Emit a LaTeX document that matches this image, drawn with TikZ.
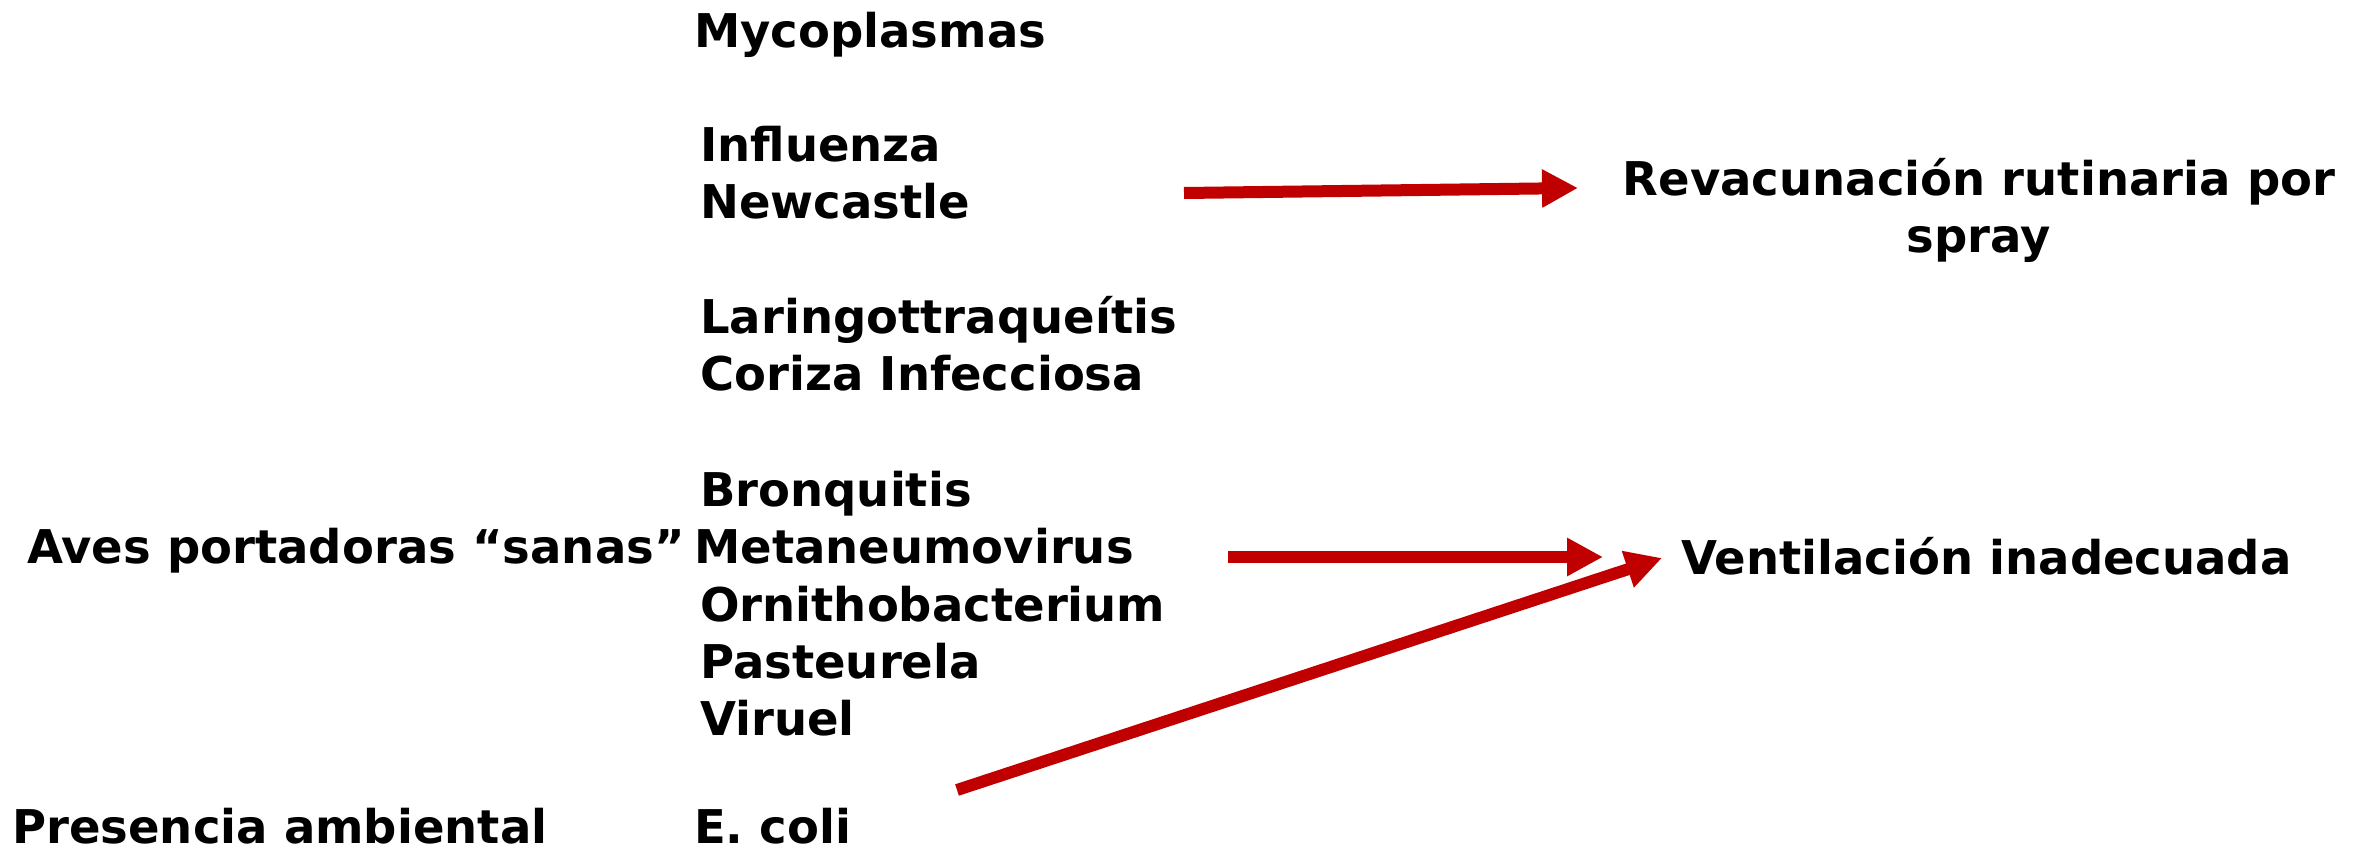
\documentclass[tikz,border=0pt]{standalone}
\usepackage{fontspec}
\setmainfont{DejaVu Sans}
\usepackage{tikz}
\usetikzlibrary{arrows.meta,positioning}

\definecolor{arrowred}{RGB}{192,0,0}

\tikzset{
    lbl/.style={anchor=base west, inner sep=0pt, font=\bfseries\fontsize{46.5}{57}\selectfont},
    redarrow/.style={draw=arrowred, line width=12pt, -{Triangle[length=36pt,width=36pt]}}
}

\begin{document}
\begin{tikzpicture}[x=1pt,y=-1pt]
    \useasboundingbox (0,0) rectangle (2353,854);

    % middle column
    \node[lbl] (myco) at (694,47) {Mycoplasmas};
    \node[lbl] (flu) at (700,161) {Influenza};
    \node[lbl] (ncd) at (700,218) {Newcastle};
    \node[lbl] (lt) at (700,333) {Laringottraqueítis};
    \node[lbl] (coriza) at (700,390) {Coriza Infecciosa};
    \node[lbl] (bronq) at (700,506) {Bronquitis};
    \node[lbl] (meta) at (694,563) {Metaneumovirus};
    \node[lbl] (ornit) at (700,621) {Ornithobacterium};
    \node[lbl] (paste) at (700,678) {Pasteurela};
    \node[lbl] (viruel) at (700,735) {Viruel};
    \node[lbl, text depth=0pt] (ecoli) at (694,843) {E. coli};

    % left column
    \node[lbl] (aves) at (27,563) {Aves portadoras “sanas”};
    \node[lbl, text depth=0pt] (amb) at (12,843) {Presencia ambiental};

    % right column
    \node[lbl, anchor=base, align=center] (revac) at (1979,252) {Revacunación rutinaria por\\spray};
    \node[lbl] (vent) at (1681,574) {Ventilación inadecuada};

    \coordinate (a1s) at (1184,193);
    \coordinate (a1e) at (1578,188);
    \coordinate (a2s) at (1228,557);
    \coordinate (a2e) at (1603,557);
    \coordinate (a3s) at (957,790);
    \coordinate (a3e) at (1662,558);

    \draw[redarrow] (a1s) -- (a1e);
    \draw[redarrow] (a2s) -- (a2e);
    \draw[redarrow] (a3s) -- (a3e);
\end{tikzpicture}
\end{document}
